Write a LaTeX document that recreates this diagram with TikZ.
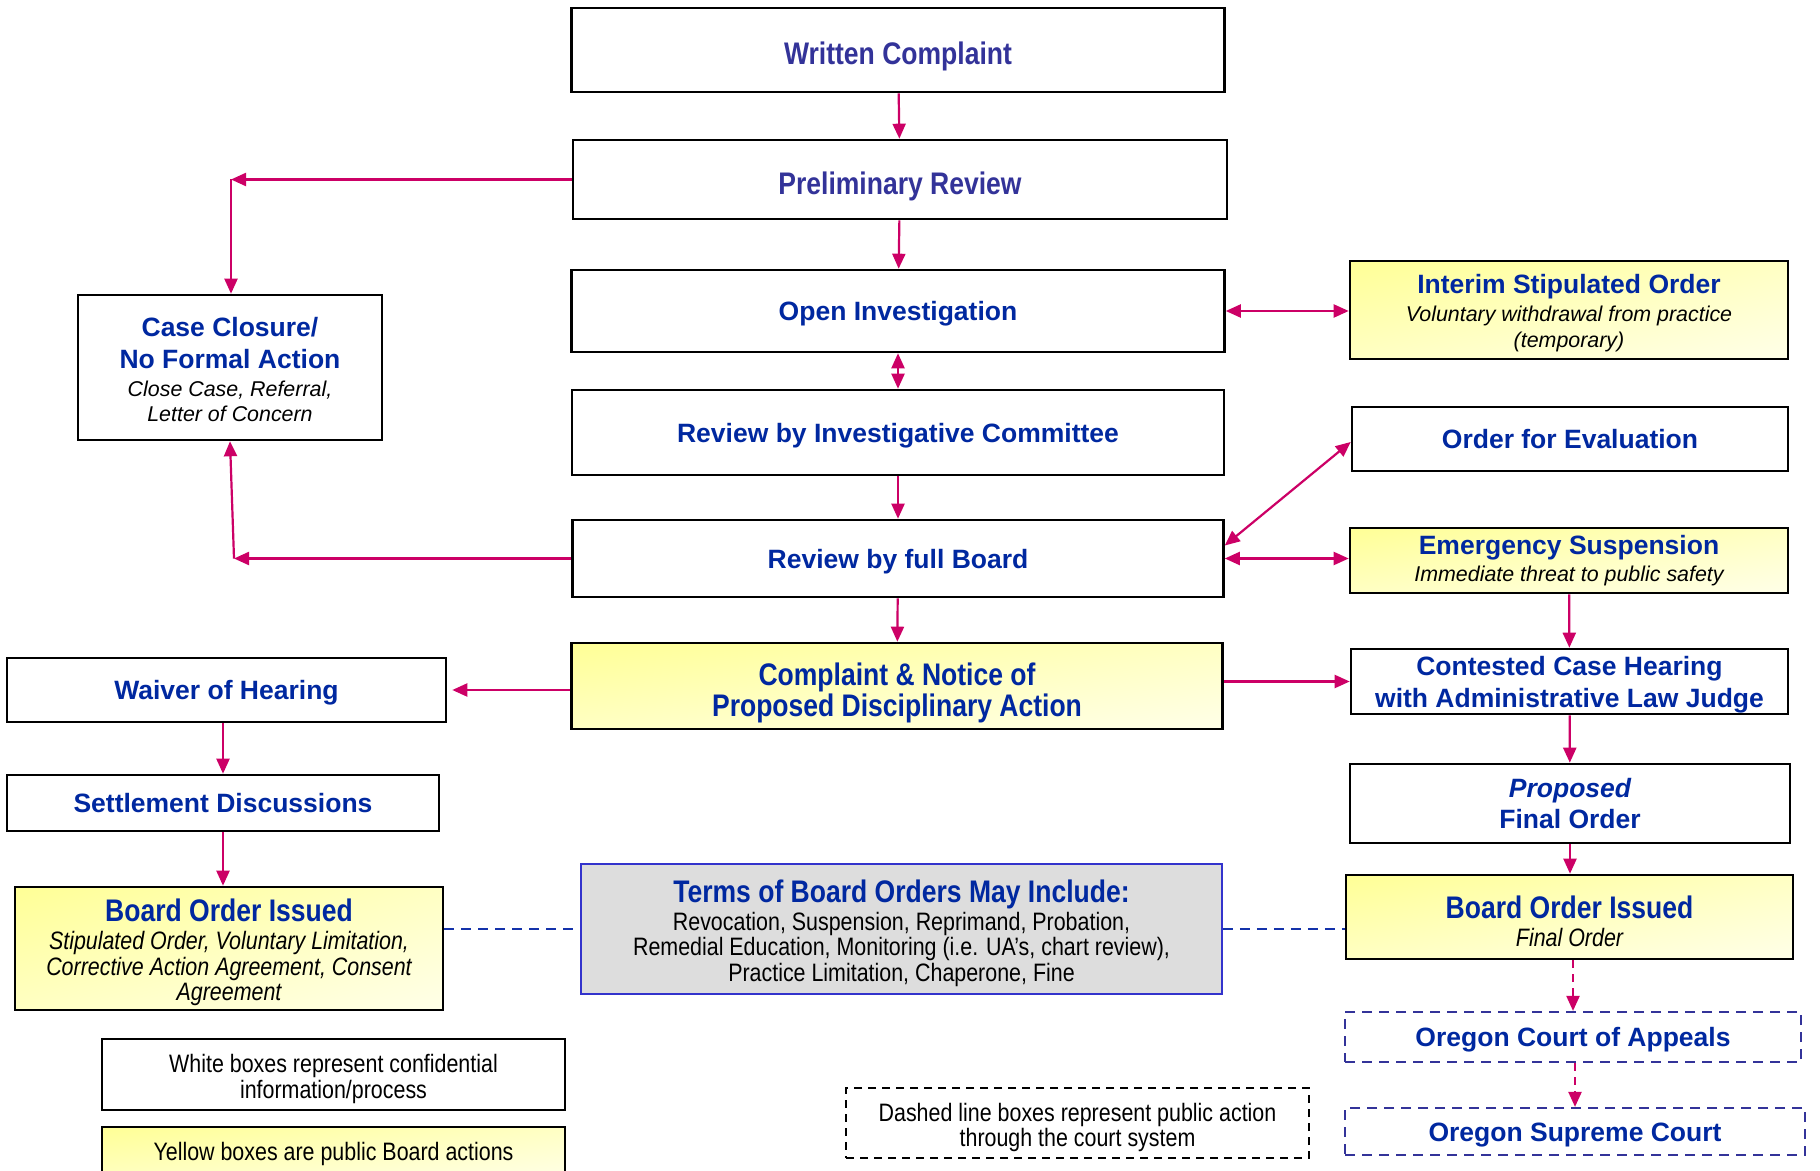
\documentclass[tikz,border=0pt]{standalone}
\usepackage{fontspec}
\setmainfont{Liberation Sans}
\newfontfamily\narrowfont{Liberation Sans}[FakeStretch=0.85]
\usetikzlibrary{arrows.meta, positioning, shadings}
\usepackage{xcolor}

\definecolor{arrowred}{RGB}{204,0,102}
\definecolor{titleblue}{RGB}{0,40,160}
\definecolor{titlepurple}{RGB}{51,51,153}
\definecolor{courtblue}{RGB}{51,51,153}
\definecolor{termsblue}{RGB}{51,51,204}
\definecolor{linkblue}{RGB}{20,50,170}
\definecolor{termsgray}{RGB}{221,221,221}
\definecolor{yelA}{RGB}{255,255,150}
\definecolor{yelM}{RGB}{255,255,195}
\definecolor{yelB}{RGB}{255,255,232}

\newcommand{\ttl}{\fontsize{13.25}{15.7}\selectfont\bfseries\color{titleblue}}
\newcommand{\ttn}{\narrowfont\fontsize{15.6}{15.7}\selectfont\bfseries\color{titleblue}}
\newcommand{\subtx}{\fontsize{10.7}{12.3}\selectfont\itshape\color{black}}
\newcommand{\subn}{\narrowfont\fontsize{12.6}{12.4}\selectfont\itshape\color{black}}
\newcommand{\bodyn}{\narrowfont\fontsize{12.6}{12.75}\selectfont\color{black}}
\newcommand{\topgap}[1]{\rule{0pt}{#1}}

\begin{document}
\begin{tikzpicture}[
x=0.5pt, y=-0.5pt,
>={Triangle[length=7.5pt,width=6.5pt]},
every node/.style={font=\fontsize{10}{15.7}\selectfont},
wbox/.style={draw=black, line width=1.3pt, fill=white, align=center, inner sep=0pt},
pub/.style={wbox, shade, upper left=yelA, upper right=yelM, lower left=yelM, lower right=yelB},
court/.style={draw=courtblue, dash pattern=on 5pt off 3.5pt, line width=1.1pt, align=center, inner sep=0pt},
single/.style={text height=12.7pt, text depth=2.8pt},
singlen/.style={text height=18pt, text depth=3.3pt},
flow/.style={draw=arrowred, line width=1.1pt},
link/.style={draw=linkblue, dash pattern=on 5pt off 3.5pt, line width=1pt},
]
\useasboundingbox[fill=white] (0,0) rectangle (1820,1171);

% centre column
\node[wbox, singlen, minimum width=326.5pt, minimum height=42pt] (complaint) at (898,50) {\ttn\color{titlepurple}Written Complaint};
\node[wbox, singlen, minimum width=327pt, minimum height=39.5pt] (prelim) at (900,179.5) {\ttn\color{titlepurple}Preliminary Review};
\node[wbox, single, minimum width=326.5pt, minimum height=41pt] (openinv) at (898,311) {\ttl Open Investigation};
\node[wbox, single, minimum width=326pt, minimum height=42.5pt] (invcomm) at (898,432.5) {\ttl Review by Investigative Committee};
\node[wbox, single, minimum width=325.5pt, minimum height=38.5pt] (fullboard) at (898,558.5) {\ttl Review by full Board};
\node[pub, minimum width=325.5pt, minimum height=43pt] (notice) at (897,686) {\ttn\topgap{18.5pt}Complaint \& Notice of\\\ttn Proposed Disciplinary Action};
\node[draw=termsblue, fill=termsgray, line width=0.8pt, align=center, inner sep=0pt, minimum width=320.5pt, minimum height=65pt] (terms) at (901.5,929)
  {\ttn\topgap{15.4pt}Terms of Board Orders May Include:\\[-1.8pt]
   \bodyn Revocation, Suspension, Reprimand, Probation,\\[-2.9pt]
   \bodyn Remedial Education, Monitoring (i.e. UA’s, chart review),\\[-2.9pt]
   \bodyn Practice Limitation, Chaperone, Fine};

% left column
\node[wbox, minimum width=152pt, minimum height=72.5pt] (closure) at (230,367.5)
  {\ttl\topgap{11.5pt}Case Closure/\\[0.5pt]\ttl No Formal Action\\[-1.8pt]\subtx Close Case, Referral,\\[-3.5pt]\subtx Letter of Concern};
\node[wbox, single, minimum width=219.5pt, minimum height=32pt] (waiver) at (226.5,690) {\ttl Waiver of Hearing};
\node[wbox, single, minimum width=216pt, minimum height=28pt] (settle) at (223,803) {\ttl Settlement Discussions};
\node[pub, minimum width=214pt, minimum height=61.5pt] (orderleft) at (229,948.5)
  {\ttn\topgap{15.4pt}Board Order Issued\\[-1.8pt]
   \subn Stipulated Order, Voluntary Limitation,\\[-2.9pt]
   \subn Corrective Action Agreement, Consent\\[-2.9pt]
   \subn Agreement};

% right column
\node[pub, minimum width=219pt, minimum height=49pt] (interim) at (1569,310)
  {\ttl\topgap{12.7pt}Interim Stipulated Order\\[-1.8pt]\subtx Voluntary withdrawal from practice\\[-2.4pt]\subtx (temporary)};
\node[wbox, single, minimum width=218pt, minimum height=32pt] (evaluation) at (1570,439) {\ttl Order for Evaluation};
\node[pub, minimum width=219pt, minimum height=32.5pt] (emergency) at (1569,560.5)
  {\ttl Emergency Suspension\\[-2.4pt]\subtx Immediate threat to public safety};
\node[wbox, minimum width=218.5pt, minimum height=32.5pt] (hearing) at (1569.5,681.5)
  {\ttl\topgap{12.7pt}Contested Case Hearing\\\ttl with Administrative Law Judge};
\node[wbox, minimum width=220pt, minimum height=39.5pt] (proposed) at (1570,803.5)
  {\ttl\itshape Proposed\\\ttl Final Order};
\node[pub, minimum width=223.5pt, minimum height=42pt] (orderright) at (1569.5,917)
  {\ttn\topgap{15.4pt}Board Order Issued\\[-1.8pt]\subn Final Order};
\node[court, single, minimum width=228pt, minimum height=25pt] (appeals) at (1573,1037) {\ttl Oregon Court of Appeals};
\node[court, single, minimum width=230pt, minimum height=23.5pt] (supreme) at (1575,1131.5) {\ttl Oregon Supreme Court};

% legend
\node[draw=black, line width=0.9pt, align=center, inner sep=0pt, minimum width=231.5pt, minimum height=35.5pt] (legwhite) at (333.5,1074.5)
  {\bodyn\topgap{13.8pt}White boxes represent confidential\\[-2.9pt]\bodyn information/process};
\node[pub, line width=0.9pt, minimum width=231.5pt, minimum height=27pt] (legyellow) at (333.5,1154)
  {\bodyn Yellow boxes are public Board actions};
\node[draw=black, dash pattern=on 4pt off 3pt, line width=0.9pt, align=center, inner sep=0pt, minimum width=231.5pt, minimum height=35pt] (legdash) at (1077.5,1123)
  {\bodyn\topgap{13.8pt}Dashed line boxes represent public action\\[-2.9pt]\bodyn through the court system};

\coordinate (toclose) at (231,179.5);
\coordinate (fromboard) at (234,558.5);

% Arrows
\draw[flow,->] (complaint) -- (prelim);
\draw[flow,->] (prelim) -- (openinv);
\draw[flow,<->] (openinv) -- (invcomm);
\draw[flow,->] (invcomm) -- (fullboard);
\draw[flow,->] (fullboard) -- (notice);
\draw[flow,->] (prelim.west) -- (toclose);
\draw[flow,->] (toclose) -- (toclose |- closure.north);
\draw[flow,->] (fullboard.west) -- (fromboard);
\draw[flow,->] (fromboard) -- (closure.south);
\draw[flow,<->] (openinv.east) -- (openinv.east -| interim.west);
\draw[flow,<->] ([yshift=6.5pt]fullboard.east) -- ([yshift=-1.5pt]evaluation.west);
\draw[flow,<->] (fullboard.east) -- (fullboard.east -| emergency.west);
\draw[flow,->] (notice.west |- waiver.east) -- ([xshift=2.5pt]waiver.east);
\draw[flow,->] (notice.east |- hearing.west) -- (hearing.west);
\draw[flow,->] (emergency) -- (hearing);
\draw[flow,->] (waiver.south -| settle.north) -- (settle.north);
\draw[flow,->] (settle.south) -- (settle.south |- orderleft.north);
\draw[flow,->] (hearing) -- (proposed);
\draw[flow,->] (proposed) -- (proposed.south |- orderright.north);
\draw[flow,->, dash pattern=on 4pt off 3pt] (orderright.south -| appeals.north) -- (appeals.north);
\draw[flow,->, dash pattern=on 4pt off 3pt] (appeals.south -| supreme.north) -- (supreme.north);
\draw[link] (orderleft.east |- terms.west) -- (terms.west);
\draw[link] (terms.east) -- (terms.east -| orderright.west);

\end{tikzpicture}
\end{document}
